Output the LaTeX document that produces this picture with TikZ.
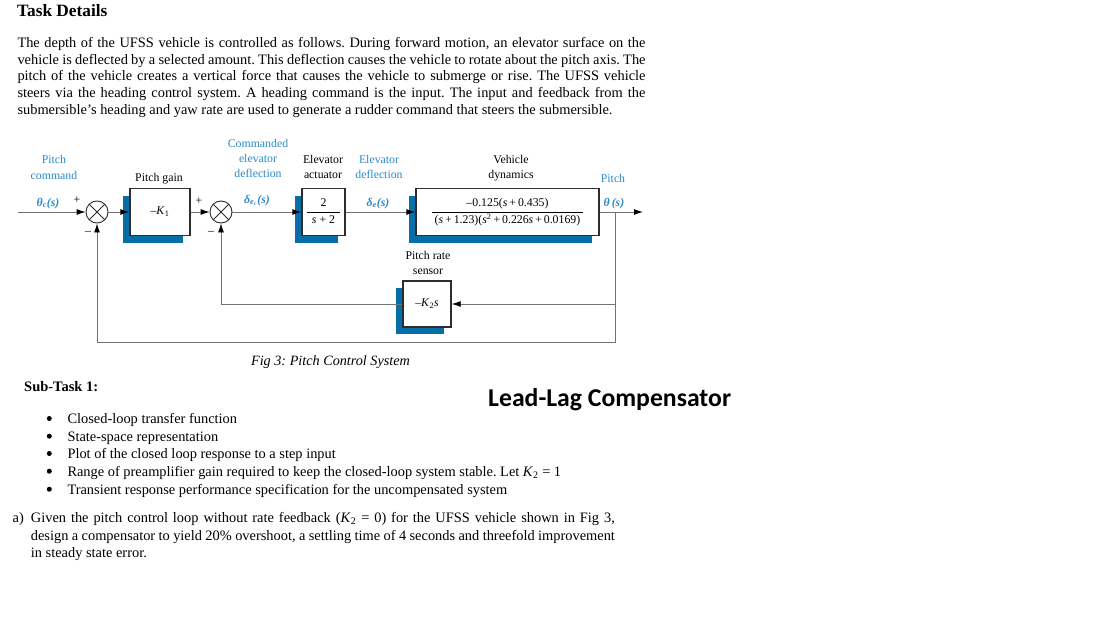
\documentclass[tikz,border=0pt]{standalone}
\usepackage{fontspec}
\setmainfont{Liberation Serif}
\newfontfamily\calib{Carlito}
\usetikzlibrary{arrows.meta,shadows}
\definecolor{lblue}{RGB}{42,138,200}
\definecolor{sblue}{RGB}{8,110,170}
\definecolor{wirec}{RGB}{115,115,115}
\definecolor{edgec}{RGB}{45,45,45}
\newcommand{\myfrac}[3][3pt]{\begin{tabular}{@{\hspace{#1}}c@{\hspace{#1}}}#2\\[1pt]\hline\rule{0pt}{12pt}#3\end{tabular}}
\newcommand{\dsz}{\fontsize{11.8}{15}\selectfont}
\newcommand{\bsz}{\fontsize{14.4}{17}\selectfont}
\frenchspacing
\begin{document}
\begin{tikzpicture}[x=1pt,y=-1pt,
  every node/.style={inner sep=0pt},
  blk/.style={draw=edgec, line width=1.4pt, fill=white, font=\dsz,
    general shadow={fill=sblue, shadow xshift=-7pt, shadow yshift=-7pt}},
  sumj/.style={circle, draw=edgec, line width=0.9pt, minimum size=22pt, fill=white,
    path picture={\draw[edgec,line width=0.9pt]
      (path picture bounding box.south west) -- (path picture bounding box.north east)
      (path picture bounding box.north west) -- (path picture bounding box.south east);}},
  wire/.style={draw=wirec, line width=0.9pt},
  arr/.style={wire, -{Latex[length=9pt,width=6pt,color=black]}},
  dl/.style={font=\dsz, anchor=base},
  bl/.style={font=\dsz, anchor=base, text=lblue},
  bm/.style={font=\dsz\bfseries\itshape, anchor=base, text=lblue},
  body/.style={font=\bsz, anchor=base west},
  bullet/.style={circle, fill=black, minimum size=5pt, inner sep=0pt},
]
\useasboundingbox (0,0) rectangle (1105,623);
\fill[white] (0,0) rectangle (1105,623);

% ---------- header text ----------
\node[font=\fontsize{17.3}{20}\selectfont\bfseries, anchor=base west] (title) at (17,17) {Task Details};
\node[body] (p1) at (17.3,47.7) {\makebox[628pt][s]{The depth of the UFSS vehicle is controlled as follows. During forward motion, an elevator surface on the}};
\node[body] (p2) at (17.3,64.3) {\makebox[628pt][s]{vehicle is deflected by a selected amount. This deflection causes the vehicle to rotate about the pitch axis. The}};
\node[body] (p3) at (17.3,81) {\makebox[628pt][s]{pitch of the vehicle creates a vertical force that causes the vehicle to submerge or rise. The UFSS vehicle}};
\node[body] (p4) at (17.3,97.7) {\makebox[628pt][s]{steers via the heading control system. A heading command is the input. The input and feedback from the}};
\node[body] (p5) at (17.3,114.3) {submersible’s heading and yaw rate are used to generate a rudder command that steers the submersible.};

% ---------- block diagram ----------
\node[sumj] (s1) at (97,212) {};
\node[sumj] (s2) at (221,212) {};
\node[blk, minimum width=60pt, minimum height=47pt] (gain) at (160,212) {–\textit{K}\textsubscript{1}};
\node[blk, minimum width=43pt, minimum height=47pt] (act) at (323.5,212) {\myfrac[5pt]{2}{\textit{s} + 2}};
\node[blk, minimum width=183pt, minimum height=47pt] (veh) at (507.5,212) {\myfrac[2.5pt]{–0.125(\textit{s}\,+\,0.435)}{(\textit{s}\,+\,1.23)(\textit{s}\textsuperscript{2}\,+\,0.226\textit{s}\,+\,0.0169)}};
\node[blk, minimum width=48pt, minimum height=46pt] (sen) at (427,304) {–\textit{K}\textsubscript{2}\textit{s}};

\coordinate (in) at (18,212);
\coordinate (br) at (615,212);
\coordinate (out) at (643,212);
\coordinate (bs) at (615,304);
\coordinate (bb) at (615,342);
\coordinate (bl1) at (97,342);
\coordinate (fl) at (221,304);

\draw[arr] (in) -- (s1.west);
\draw[arr] (s1.east) -- (gain.west);
\draw[arr] (gain.east) -- (s2.west);
\draw[arr] (s2.east) -- (act.west);
\draw[arr] (act.east) -- (veh.west);
\draw[arr] (veh.east) -- (out);
\draw[wire] (br) -- (bb) -- (bl1);
\draw[arr] (bl1) -- (s1.south);
\draw[arr] (bs) -- (sen.east);
\draw[wire] (sen.west) -- (fl);
\draw[arr] (fl) -- (s2.south);

% signs
\node[font=\dsz] (pl1) at (77,200) {+};
\node[font=\dsz] (mi1) at (88,233) {–};
\node[font=\dsz] (pl2) at (199,201) {+};
\node[font=\dsz] (mi2) at (211,233) {–};

% labels
\node[bl] (lpc1) at (54,164) {Pitch};
\node[bl] (lpc2) at (54,179) {command};
\node[bm] (lthc) at (48,206) {θ\textsubscript{\textit{c}}(\textit{s})};
\node[dl] (lpg) at (159,181) {Pitch gain};
\node[bl] (lce1) at (258,147) {Commanded};
\node[bl] (lce2) at (258,162) {elevator};
\node[bl] (lce3) at (258,177) {deflection};
\node[bm] (ldec) at (257,203) {δ\textsubscript{\textit{e}\textsubscript{\textit{c}}}(\textit{s})};
\node[dl] (lea1) at (323,163) {Elevator};
\node[dl] (lea2) at (323,178) {actuator};
\node[bl] (led1) at (379,163) {Elevator};
\node[bl] (led2) at (379,178) {deflection};
\node[bm] (lde) at (378,206) {δ\textsubscript{\textit{e}}(\textit{s})};
\node[dl] (lvd1) at (511,163) {Vehicle};
\node[dl] (lvd2) at (511,178) {dynamics};
\node[bl] (lpo) at (613,182) {Pitch};
\node[bm] (lth) at (614,206) {θ\,(\textit{s})};
\node[dl] (lpr1) at (428,259) {Pitch rate};
\node[dl] (lpr2) at (428,274) {sensor};

\node[font=\fontsize{14.2}{17}\selectfont\itshape, anchor=base] (cap) at (330.5,365) {Fig 3: Pitch Control System};

% ---------- sub-task ----------
\node[font=\fontsize{14.5}{17}\selectfont\bfseries, anchor=base west] (sub) at (24,391.7) {Sub-Task 1:};
\node[font=\calib\fontsize{25.7}{30}\selectfont\bfseries, anchor=base west] (llc) at (488,406) {Lead-Lag Compensator};

\node[bullet] (b1) at (49.3,418.5) {};
\node[bullet] (b2) at (49.3,436.2) {};
\node[bullet] (b3) at (49.3,453.5) {};
\node[bullet] (b4) at (49.3,471.2) {};
\node[bullet] (b5) at (49.3,489.2) {};
\node[body] (t1) at (67.3,423.3) {Closed-loop transfer function};
\node[body] (t2) at (67.3,441) {State-space representation};
\node[body] (t3) at (67.3,458.3) {Plot of the closed loop response to a step input};
\node[body] (t4) at (67.3,476) {Range of preamplifier gain required to keep the closed-loop system stable. Let \textit{K}\textsubscript{2} = 1};
\node[body] (t5) at (67.3,494) {Transient response performance specification for the uncompensated system};

\node[font=\bsz, anchor=base east] (qa) at (24,522.7) {a)};
\node[body] (a1) at (30.7,522.7) {\makebox[584pt][s]{Given the pitch control loop without rate feedback (\textit{K}\textsubscript{2} = 0) for the UFSS vehicle shown in Fig 3,}};
\node[body] (a2) at (30.7,540) {\makebox[584pt][s]{design a compensator to yield 20\% overshoot, a settling time of 4 seconds and threefold improvement}};
\node[body] (a3) at (30.7,557.7) {in steady state error.};
\end{tikzpicture}
\end{document}
